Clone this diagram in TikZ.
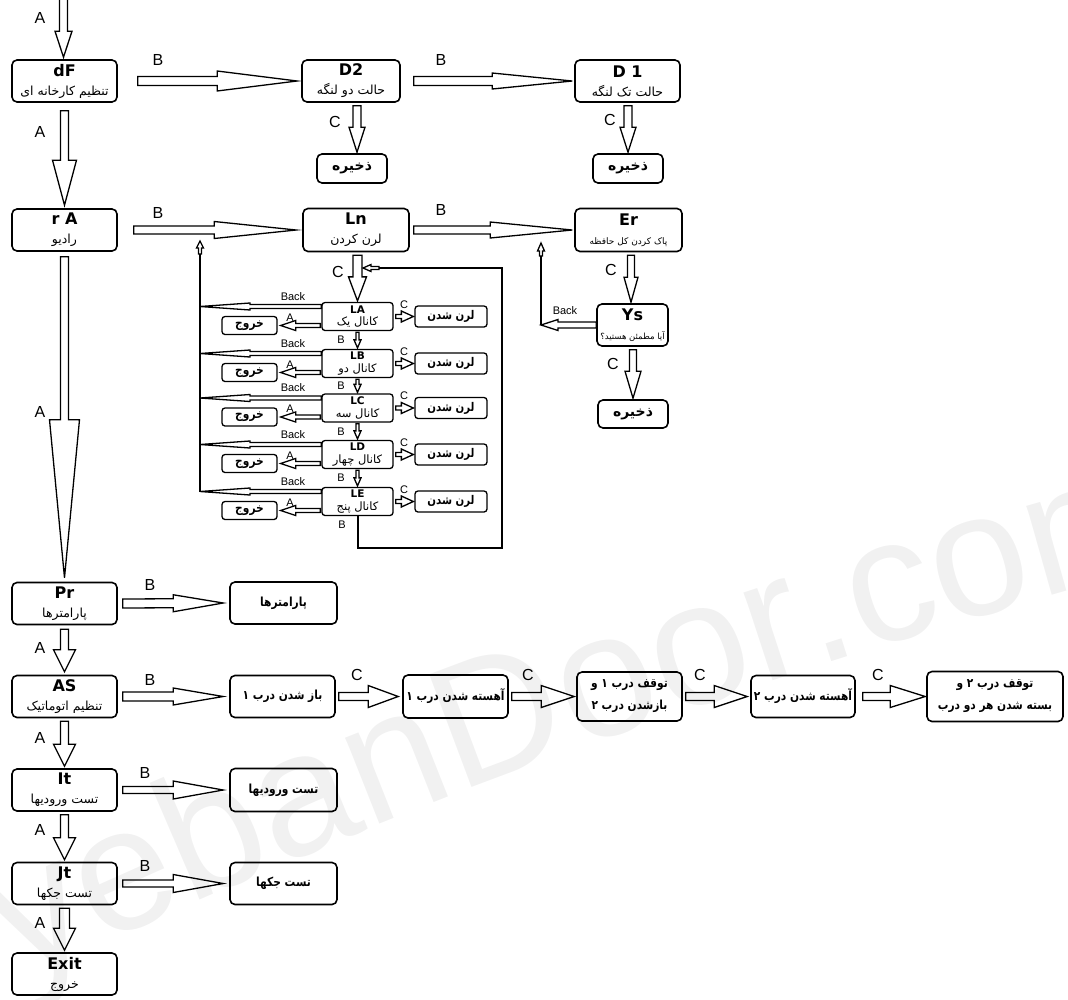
\documentclass[tikz,border=0pt]{standalone}
\usepackage{fontspec}
\setmainfont{Liberation Sans}
\newfontfamily\ttlf{DejaVu Sans}
\newfontfamily\faf[Script=Arabic]{DejaVu Sans}
\newfontfamily\fafc[Script=Arabic,FakeStretch=0.85]{DejaVu Sans}
\newfontfamily\wmf{Liberation Sans}
\usetikzlibrary{calc,decorations.text}
\TeXXeTstate=1
\newcommand\pe[1]{{\faf\beginR #1\endR}}
\newcommand\pec[1]{{\fafc\bfseries\beginR #1\endR}}
\newcommand\ttl[1]{{\ttlf\bfseries\fontsize{16}{16}\selectfont #1}}
\newcommand\lttl[1]{{\ttlf\bfseries\fontsize{10.5}{10.5}\selectfont #1}}
\newcommand\wmfont{\wmf\fontsize{175}{175}\selectfont}
\newcommand\barrow[6][]{%
  \coordinate (ba-s) at #2;
  \coordinate (ba-t) at #3;
  \coordinate (ba-h) at ($(ba-t)!#6!(ba-s)$);
  \draw[blockarrow,#1] ($(ba-s)!#4!90:(ba-t)$) -- ($(ba-h)!#4!-90:(ba-s)$) -- ($(ba-h)!#5!-90:(ba-s)$) -- (ba-t) -- ($(ba-h)!#5!90:(ba-s)$) -- ($(ba-h)!#4!90:(ba-s)$) -- ($(ba-s)!#4!-90:(ba-t)$) -- cycle;
}
\tikzset{
  box/.style={draw, line width=1.6pt, rounded corners=5pt, align=center, inner sep=0pt},
  mainbox/.style={box, minimum width=105pt, minimum height=42pt, font=\fontsize{12.5}{19}\selectfont},
  rbox/.style={box, minimum width=106pt, minimum height=42pt, font=\fontsize{12.5}{22}\selectfont},
  savebox/.style={box, minimum width=70pt, minimum height=29pt, font=\fontsize{14}{15}\selectfont\bfseries},
  lbox/.style={box, line width=1.3pt, rounded corners=3pt, minimum width=71pt, minimum height=28pt, font=\fontsize{11.5}{12.5}\selectfont},
  xbox/.style={box, line width=1.3pt, rounded corners=3pt, minimum width=55pt, minimum height=18pt, font=\fontsize{12.5}{12}\selectfont},
  nbox/.style={box, line width=1.3pt, rounded corners=3pt, minimum width=72pt, minimum height=21pt, font=\fontsize{12}{12}\selectfont},
  blockarrow/.style={draw, line width=1.3pt, line join=miter},
  fline/.style={draw, line width=1.4pt},
  lab/.style={font=\fontsize{16}{16}\selectfont, inner sep=0pt},
  slab/.style={font=\fontsize{11}{11}\selectfont, inner sep=0pt},
}
\begin{document}
\begin{tikzpicture}[x=1pt,y=-1pt]
\useasboundingbox (0,0) rectangle (1068,999);
% watermark
\path[decorate, decoration={text along path, text align={left, left indent=45pt}, text={|\wmfont\color{gray!11}|yebanDoor.com}}] (-20,1000) .. controls (300,850) and (650,700) .. (1250,540);

% ---------- left column ----------
\node[mainbox] (dF) at (64.5,81) {\ttl{dF}\\\pe{تنظیم کارخانه ای}};
\node[mainbox] (rA) at (64.5,230) {\ttl{r A}\\\pe{رادیو}};
\node[mainbox] (Pr) at (64.5,603.5) {\ttl{Pr}\\\pe{پارامترها}};
\node[mainbox] (AS) at (64.5,696.5) {\ttl{AS}\\\pe{تنظیم اتوماتیک}};
\node[mainbox] (It) at (64.5,790) {\ttl{It}\\\pe{تست ورودیها}};
\node[mainbox] (Jt) at (64.5,883.5) {\ttl{Jt}\\\pe{تست جکها}};
\node[mainbox] (Ex) at (64.5,974) {\ttl{Exit}\\\pe{خروج}};

% ---------- top row ----------
\node[mainbox, minimum width=98pt] (D2) at (351,81) {\ttl{D2}\\\pe{حالت دو لنگه}};
\node[mainbox] (D1) at (627.5,81) {\ttl{D 1}\\\pe{حالت تک لنگه}};
\node[savebox] (S1) at (352,168.5) {\pe{ذخیره}};
\node[savebox] (S2) at (628,168.5) {\pe{ذخیره}};

% ---------- radio row ----------
\node[mainbox, minimum width=106pt, minimum height=43pt] (Ln) at (356,230) {\ttl{Ln}\\\pe{لرن کردن}};
\node[mainbox, minimum width=107pt, minimum height=43pt] (Er) at (628.5,230) {\ttl{Er}\\{\fontsize{9}{9}\selectfont\pe{پاک کردن کل حافظه}}};
\node[mainbox, minimum width=71pt] (Ys) at (632.5,325) {\ttl{Ys}\\{\fontsize{8.5}{8.5}\selectfont\pe{آیا مطمئن هستید؟}}};
\node[savebox, minimum height=28pt] (S3) at (633,414) {\pe{ذخیره}};

% ---------- parameter rows ----------
\node[rbox, minimum width=107pt] (P1) at (283.5,603) {\pec{پارامترها}};
\node[rbox, minimum width=105pt] (Q1) at (282.5,696.5) {\pec{باز شدن درب ۱}};
\node[rbox, minimum width=105pt, minimum height=43pt] (Q2) at (455.5,696.5) {\pec{آهسته شدن درب ۱}};
\node[rbox, minimum width=105pt, minimum height=49pt] (Q3) at (629.5,696.5) {\pec{توقف درب ۱ و}\\\pec{بازشدن درب ۲}};
\node[rbox, minimum width=104pt] (Q4) at (803,696.5) {\pec{آهسته شدن درب ۲}};
\node[rbox, minimum width=136pt, minimum height=50pt] (Q5) at (995,696.5) {\pec{توقف درب ۲ و}\\\pec{بسته شدن هر دو درب}};
\node[rbox, minimum width=107pt, minimum height=43pt] (T1) at (283.5,790) {\pec{تست ورودیها}};
\node[rbox, minimum width=107pt] (T2) at (283.5,883.5) {\pec{تست جکها}};

% ---------- main arrows ----------
\coordinate (entry) at (63.5,-2);
\barrow{(entry)}{($(dF.north)+(-1,-2)$)}{4pt}{8.5pt}{26pt}
\barrow{($(dF.south)+(0,8)$)}{($(rA.north)+(0,-3)$)}{4pt}{12pt}{45pt}
\barrow{($(rA.south)+(0,5)$)}{($(Pr.north)+(0,-4)$)}{4pt}{15pt}{158pt}
\barrow{($(Pr.south)+(0,4)$)}{($(AS.north)+(0,-3)$)}{4pt}{11pt}{22pt}
\barrow{($(AS.south)+(0,3)$)}{($(It.north)+(0,-2)$)}{4pt}{11pt}{22pt}
\barrow{($(It.south)+(0,3)$)}{($(Jt.north)+(0,-2)$)}{4pt}{11pt}{22pt}
\barrow{($(Jt.south)+(0,3)$)}{($(Ex.north)+(0,-2)$)}{5pt}{11pt}{22pt}

\barrow{($(dF.east)+(20,0)$)}{($(D2.west)+(-4,0)$)}{4.5pt}{10pt}{80pt}
\barrow{($(D2.east)+(13,0)$)}{($(D1.west)+(-2,0)$)}{4.5pt}{8pt}{80pt}
\barrow{($(D2.south)+(6,3)$)}{($(S1.north)+(5,-1)$)}{4pt}{8pt}{25pt}
\barrow{($(D1.south)+(0.5,3)$)}{($(S2.north)+(0,-1)$)}{4pt}{8pt}{25pt}

\barrow{($(rA.east)+(16,0)$)}{($(Ln.west)+(-6,0)$)}{4pt}{8.5pt}{82pt}
\barrow{($(Ln.east)+(4,0)$)}{($(Er.west)+(-2,0)$)}{4pt}{8pt}{82pt}
\barrow{($(Er.south)+(2.5,3)$)}{($(Ys.north)+(-1.5,-1)$)}{3.5pt}{7pt}{25pt}
\barrow{($(Ys.south)+(0.5,3)$)}{($(S3.north)+(0,-1)$)}{3.5pt}{8pt}{27pt}

\barrow{($(Pr.east)+(5,0)$)}{($(P1.west)+(-6,0)$)}{4.5pt}{8.5pt}{50pt}
\barrow{($(AS.east)+(5,0)$)}{($(Q1.west)+(-6,0)$)}{4.5pt}{8.5pt}{50pt}
\barrow{($(It.east)+(5,0)$)}{($(T1.west)+(-6,0)$)}{3.5pt}{9pt}{50pt}
\barrow{($(Jt.east)+(5,0)$)}{($(T2.west)+(-6,0)$)}{3.5pt}{9pt}{50pt}

\barrow{($(Q1.east)+(3,0)$)}{($(Q2.west)+(-4,0)$)}{4pt}{11pt}{30pt}
\barrow{($(Q2.east)+(3,0)$)}{($(Q3.west)+(-2,0)$)}{4pt}{11pt}{33pt}
\barrow{($(Q3.east)+(3,0)$)}{($(Q4.west)+(-3,0)$)}{4pt}{11pt}{33pt}
\barrow{($(Q4.east)+(7,0)$)}{($(Q5.west)+(-1,0)$)}{4pt}{11pt}{35pt}

% ---------- learn block ----------
\coordinate (busTop) at (200,241);
\coordinate (busArr) at (200,254);
\coordinate (busBot) at (200,491.5);
\foreach \k/\yy/\nm in {A/316.5/یک,B/363.5/دو,C/408/سه,D/454.5/چهار,E/501.5/پنج}{
  \node[lbox] (L\k) at (357.5,\yy) {\lttl{L\k}\\\pe{کانال \nm}};
  \node[xbox] (X\k) at (249.5,\yy+9) {\pec{خروج}};
  \node[nbox] (N\k) at (451,\yy) {\pec{لرن شدن}};
  \barrow{($(L\k.west)+(0,-10)$)}{(200,\yy-10)}{2pt}{3.5pt}{50pt}
  \barrow{($(L\k.west)+(-1,9)$)}{($(X\k.east)+(3,0)$)}{2pt}{5pt}{15pt}
  \barrow{($(L\k.east)+(2,0)$)}{($(N\k.west)+(-1,0)$)}{2pt}{5.5pt}{12pt}
  \node[slab] (bk\k) at (293,\yy-20) {Back};
  \node[slab] (la\k) at (290,\yy+1) {A};
  \node[slab] (lc\k) at (404,\yy-12) {C};
}
\barrow{($(Ln.south)+(1.5,3)$)}{($(LA.north)+(0,-1)$)}{4.5pt}{9pt}{24pt}
\draw[fline] (busBot) -- (busArr);
\barrow{(busArr)}{(busTop)}{1.5pt}{3.5pt}{7pt}
\foreach \a/\b in {A/B,B/C,C/D,D/E}{
  \barrow{($(L\a.south)+(0,1)$)}{($(L\b.north)+(0,-1)$)}{1.5pt}{3.5pt}{8pt}
}
\node[slab] (lbA) at (341,340) {B};
\node[slab] (lbB) at (341,386) {B};
\node[slab] (lbC) at (341,432) {B};
\node[slab] (lbD) at (341,478) {B};
\node[slab] (lbE) at (342,525) {B};
\coordinate (loopB) at (358,548);
\coordinate (loopR) at (502,548);
\coordinate (loopT) at (502,268);
\coordinate (loopA) at (379,268);
\coordinate (loopTip) at (363,268);
\draw[fline] (LE.south -| loopB) -- (loopB) -- (loopR) -- (loopT) -- (loopA);
\barrow{(loopA)}{(loopTip)}{1.5pt}{3.5pt}{8pt}

% Ys back loop
\coordinate (ysBus) at (541,325);
\coordinate (ysArr) at (541,256);
\coordinate (ysTop) at (541,243);
\barrow{(Ys.west)}{(ysBus)}{3pt}{5.5pt}{17pt}
\draw[fline] (ysBus) -- (ysArr);
\barrow{(ysArr)}{(ysTop)}{1.5pt}{3.5pt}{8pt}
\node[slab] (bkY) at (565,311) {Back};

% ---------- labels ----------
\node[lab] (a0) at (40,18) {A};
\node[lab] (a1) at (40,132) {A};
\node[lab] (a2) at (40,412) {A};
\node[lab] (a3) at (40,648) {A};
\node[lab] (a4) at (40,738) {A};
\node[lab] (a5) at (40,830) {A};
\node[lab] (a6) at (40,923) {A};
\node[lab] (b1) at (158,60) {B};
\node[lab] (b2) at (441,60) {B};
\node[lab] (b3) at (158,213) {B};
\node[lab] (b4) at (441,210) {B};
\node[lab] (b5) at (150,585) {B};
\node[lab] (b6) at (150,680) {B};
\node[lab] (b7) at (145,773) {B};
\node[lab] (b8) at (145,866) {B};
\node[lab] (c1) at (335,122) {C};
\node[lab] (c2) at (610,120) {C};
\node[lab] (c3) at (338,272) {C};
\node[lab] (c4) at (611,270) {C};
\node[lab] (c5) at (613,364) {C};
\node[lab] (c6) at (357,675) {C};
\node[lab] (c7) at (528,675) {C};
\node[lab] (c8) at (700,675) {C};
\node[lab] (c9) at (878,675) {C};
\end{tikzpicture}
\end{document}
